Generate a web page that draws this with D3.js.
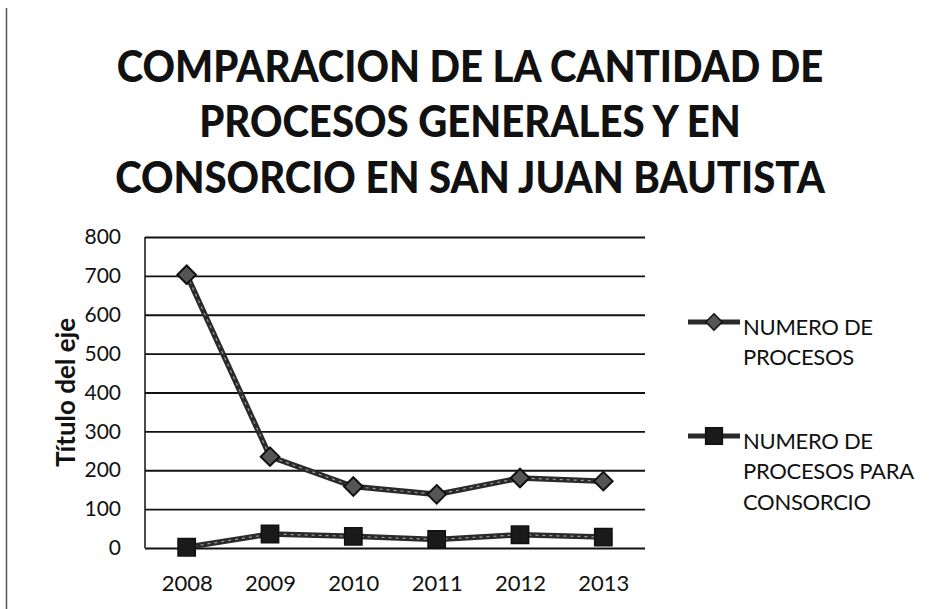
<!DOCTYPE html>
<html>
<head>
<meta charset="utf-8">
<script src="https://cdn.jsdelivr.net/npm/d3@7"></script>
<style>
  body { margin: 0; background: #fff; }
  text { font-family: Lato, "Open Sans", sans-serif; fill: #111; }
</style>
</head>
<body>
<svg id="chart" width="933" height="609"></svg>
<script>
// data
const years = ['2008', '2009', '2010', '2011', '2012', '2013'];
const procesos = [703, 235, 158, 138, 180, 172];
const consorcio = [2, 36, 30, 22, 34, 28];
const yTicks = [0, 100, 200, 300, 400, 500, 600, 700, 800];
const titleLines = [
  'COMPARACION DE LA CANTIDAD DE',
  'PROCESOS GENERALES Y EN',
  'CONSORCIO EN SAN JUAN BAUTISTA'
];
const seriesNames = [
  ['NUMERO DE', 'PROCESOS'],
  ['NUMERO DE', 'PROCESOS PARA', 'CONSORCIO']
];

const svg = d3.select('#chart');
const margin = { left: 145, right: 288, top: 237, bottom: 61 };
const width = 933, height = 609;

// frame edge on the left
svg.append('line')
  .attr('x1', 6.5).attr('x2', 6.5).attr('y1', 8).attr('y2', 609)
  .attr('stroke', '#555').attr('stroke-width', 1.5);

// title, squeezed sideways to the width of the original
const title = svg.append('g');
const titleText = title.selectAll('text')
  .data(titleLines)
  .enter().append('text')
    .attr('x', 0)
    .attr('y', (d, i) => 82 + i * 55.5)
    .attr('text-anchor', 'middle')
    .style('font-size', '43px')
    .style('font-weight', 900)
    .text(d => d);
const widest = d3.max(titleText.nodes(), n => n.getComputedTextLength());
title.attr('transform', `translate(470,0) scale(${710 / widest},1)`);

const x = d3.scalePoint()
  .domain(years)
  .range([margin.left, width - margin.right])
  .padding(0.5);
const y = d3.scaleLinear()
  .domain([0, 800])
  .range([height - margin.bottom, margin.top]);

const g = svg.append('g');

// gridlines
g.append('g')
  .attr('transform', `translate(${margin.left},0)`)
  .call(d3.axisLeft(y).tickValues(yTicks).tickSize(-(width - margin.right - margin.left)).tickFormat(''))
  .call(s => s.select('.domain').remove())
  .call(s => s.selectAll('line').attr('stroke', '#111').attr('stroke-width', 1.8));

// left axis line + labels
g.append('line')
  .attr('x1', margin.left).attr('x2', margin.left)
  .attr('y1', y(800)).attr('y2', y(0))
  .attr('stroke', '#111').attr('stroke-width', 1.5);

g.append('g')
  .attr('transform', `translate(${margin.left},0)`)
  .call(d3.axisLeft(y).tickValues(yTicks).tickSize(0).tickPadding(24))
  .call(s => s.select('.domain').remove())
  .call(s => s.selectAll('text').style('font-size', '21px').attr('fill', '#111')
    .style('font-family', 'Lato, sans-serif'));

g.append('g')
  .attr('transform', `translate(0,${y(0)})`)
  .call(d3.axisBottom(x).tickSize(0).tickPadding(27))
  .call(s => s.select('.domain').remove())
  .call(s => s.selectAll('text').style('font-size', '22px').attr('fill', '#111')
    .style('font-family', 'Lato, sans-serif'));

// axis title
svg.append('text')
  .attr('transform', `translate(65,${y(400)}) rotate(-90)`)
  .attr('text-anchor', 'middle')
  .attr('dominant-baseline', 'central')
  .style('font-size', '26px')
  .style('font-weight', 700)
  .text('Título del eje');

// lines
const line = d3.line().x((d, i) => x(years[i])).y(d => y(d));
[procesos, consorcio].forEach(s => {
  g.append('path').datum(s).attr('d', line)
    .attr('fill', 'none').attr('stroke', '#2a2a2a').attr('stroke-width', 5.5);
  g.append('path').datum(s).attr('d', line)
    .attr('fill', 'none').attr('stroke', '#999').attr('stroke-width', 1.2)
    .attr('stroke-dasharray', '3,4');
});

const diamond = d3.symbol().type(d3.symbolDiamond2).size(220);
const square = d3.symbol().type(d3.symbolSquare).size(300);

g.selectAll('.pt1').data(procesos).enter().append('path')
  .attr('class', 'pt1')
  .attr('transform', (d, i) => `translate(${x(years[i])},${y(d)})`)
  .attr('d', diamond)
  .attr('fill', '#555').attr('stroke', '#111').attr('stroke-width', 2);

g.selectAll('.pt2').data(consorcio).enter().append('path')
  .attr('class', 'pt2')
  .attr('transform', (d, i) => `translate(${x(years[i])},${y(d)})`)
  .attr('d', square)
  .attr('fill', '#1a1a1a').attr('stroke', '#111').attr('stroke-width', 1.5);

// legend
const legendY = [322, 436];
seriesNames.forEach((names, k) => {
  const lg = svg.append('g').attr('transform', `translate(688,${legendY[k]})`);
  lg.append('line').attr('x1', 0).attr('x2', 52).attr('y1', 0).attr('y2', 0)
    .attr('stroke', '#2a2a2a').attr('stroke-width', 5);
  lg.append('path').attr('transform', 'translate(26,0)')
    .attr('d', k === 0 ? d3.symbol().type(d3.symbolDiamond2).size(170)() : d3.symbol().type(d3.symbolSquare).size(280)())
    .attr('fill', k === 0 ? '#555' : '#1a1a1a').attr('stroke', '#111').attr('stroke-width', 1.5);
  lg.selectAll('text').data(names).enter().append('text')
    .attr('x', 55)
    .attr('y', (d, i) => 4 + i * 30.5)
    .attr('dominant-baseline', 'central')
    .style('font-size', '22px')
    .style('letter-spacing', '-0.3px')
    .text(d => d);
});
</script>
</body>
</html>
